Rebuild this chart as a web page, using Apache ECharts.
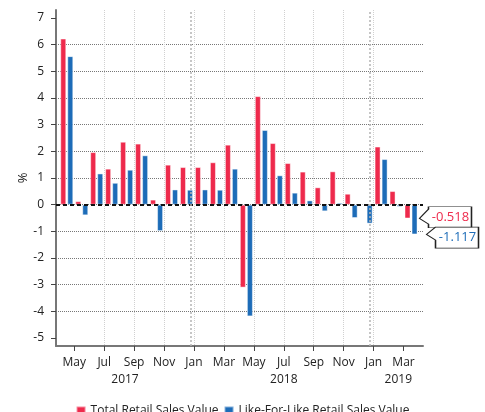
<!DOCTYPE html>
<html>
<head>
<meta charset="utf-8">
<script src="https://cdn.jsdelivr.net/npm/echarts@6/dist/echarts.min.js"></script>
<style>
  html, body { margin: 0; padding: 0; background: #fff; }
  #chart { width: 485px; height: 412px; }
</style>
</head>
<body>
<div id="chart"></div>
<script>
// monthly growth, %, Apr 2017 - Mar 2019
const months = [
  '2017-04', '2017-05', '2017-06', '2017-07', '2017-08', '2017-09',
  '2017-10', '2017-11', '2017-12', '2018-01', '2018-02', '2018-03',
  '2018-04', '2018-05', '2018-06', '2018-07', '2018-08', '2018-09',
  '2018-10', '2018-11', '2018-12', '2019-01', '2019-02', '2019-03'
]
const totalSales = [
  6.23, 0.13, 1.97, 1.35, 2.36, 2.29, 0.19, 1.50, 1.41, 1.41, 1.59, 2.25,
  -3.11, 4.07, 2.31, 1.56, 1.24, 0.65, 1.25, 0.41, 0.02, 2.18, 0.51, -0.518
]
const likeForLike = [
  5.57, -0.40, 1.17, 0.82, 1.31, 1.85, -0.99, 0.57, 0.56, 0.57, 0.56, 1.35,
  -4.19, 2.80, 1.10, 0.45, 0.16, -0.25, 0.07, -0.50, -0.71, 1.71, -0.08, -1.117
]
const seriesNames = ['Total Retail Sales Value', 'Like-For-Like Retail Sales Value']
const monthTicks = ['May', 'Jul', 'Sep', 'Nov', 'Jan', 'Mar', 'May', 'Jul', 'Sep', 'Nov', 'Jan', 'Mar']
const years = ['2017', '2018', '2019']
const yTicks = [-5, -4, -3, -2, -1, 0, 1, 2, 3, 4, 5, 6, 7]

const RED = '#ee2a4c'
const BLUE = '#1d6cb8'

// x is a month count: start of May 2017 = 0, so the 2-month ticks land on 0, 2, 4 ...
const xMin = -1.22
const xMax = 23.3
const barX = i => i - 0.5
const yearStarts = months.map((m, i) => m.endsWith('-01') ? i - 1 : null).filter(v => v !== null)
const yearEdges = [xMin, ...yearStarts, xMax]
const yearCenters = years.map((y, i) => (yearEdges[i] + yearEdges[i + 1]) / 2)
const tickValues = monthTicks.map((m, i) => i * 2)

// box with a pointer on its left side, tip sits on the last value
function callout (values, color, path, dy) {
  const last = values[values.length - 1]
  return {
    silent: true,
    symbol: path,
    symbolSize: [52, 21],
    symbolOffset: [26, dy],
    itemStyle: { color: '#fff', borderColor: '#222', borderWidth: 1 },
    label: {
      show: true,
      position: 'inside',
      offset: [5, 0],
      color: color,
      fontSize: 13,
      formatter: () => last.toFixed(3)
    },
    data: [{ coord: [xMax, last] }]
  }
}

const chart = echarts.init(document.getElementById('chart'))
chart.setOption({
  animation: false,
  textStyle: { fontFamily: 'Open Sans' },
  grid: { left: 56, right: 62, top: 10, bottom: 66 },
  legend: {
    data: seriesNames,
    top: 400,
    left: 'center',
    icon: 'rect',
    itemWidth: 9,
    itemHeight: 9,
    itemGap: 5,
    textStyle: { fontSize: 12, color: '#222' }
  },
  xAxis: [
    {
      type: 'value',
      min: xMin,
      max: xMax,
      minInterval: 2,
      maxInterval: 2,
      axisLine: { show: true, onZero: false, lineStyle: { color: '#777', width: 2 } },
      axisTick: { show: true, length: 5, customValues: tickValues, lineStyle: { color: '#444' } },
      axisLabel: {
        customValues: tickValues,
        margin: 11,
        fontSize: 12,
        color: '#222',
        formatter: v => monthTicks[Math.round(v / 2)] || ''
      },
      splitLine: {
        show: true,
        showMinLine: false,
        showMaxLine: false,
        lineStyle: { color: '#d0d0d0', type: 'dotted' }
      }
    },
    {
      // year row under the month labels
      type: 'value',
      min: xMin,
      max: xMax,
      position: 'bottom',
      offset: 17,
      axisLine: { show: false },
      axisTick: { show: false },
      splitLine: { show: false },
      axisLabel: {
        customValues: yearCenters,
        margin: 11,
        fontSize: 12,
        color: '#222',
        formatter: v => years[yearCenters.indexOf(v)] || ''
      }
    }
  ],
  yAxis: {
    type: 'value',
    min: -5.3,
    max: 7.3,
    minInterval: 1,
    maxInterval: 1,
    name: '%',
    nameLocation: 'middle',
    nameGap: 26,
    nameMoveOverlap: false,
    nameTextStyle: { fontSize: 13, color: '#222' },
    axisLine: { show: true, onZero: false, lineStyle: { color: '#777', width: 2 } },
    axisTick: { show: true, length: 5, customValues: yTicks, lineStyle: { color: '#444' } },
    axisLabel: { customValues: yTicks, margin: 12, fontSize: 12, color: '#222' },
    splitLine: {
      show: true,
      showMinLine: false,
      showMaxLine: false,
      lineStyle: { color: '#777', type: 'dotted' }
    }
  },
  series: [
    {
      name: seriesNames[0],
      type: 'bar',
      barWidth: 6,
      barGap: '17%',
      itemStyle: { color: RED, borderColor: 'rgba(255,255,255,0.45)', borderWidth: 1 },
      data: totalSales.map((v, i) => [barX(i), v]),
      markLine: {
        silent: true,
        symbol: ['none', 'none'],
        label: { show: false },
        data: [
          { yAxis: 0, lineStyle: { color: '#111', width: 2, type: [4, 3] } },
          ...yearStarts.map(x => ({ xAxis: x, lineStyle: { color: '#b4b4b4', width: 1.5, type: [2, 2] } }))
        ]
      },
      markPoint: callout(totalSales, RED, 'path://M9,0L52,0L52,21L9,21L9,17.3L0,11.7L9,2.3Z', -1.2)
    },
    {
      name: seriesNames[1],
      type: 'bar',
      barWidth: 6,
      barGap: '17%',
      itemStyle: { color: BLUE, borderColor: 'rgba(255,255,255,0.45)', borderWidth: 1 },
      data: likeForLike.map((v, i) => [barX(i), v]),
      markPoint: callout(likeForLike, BLUE, 'path://M9,0L52,0L52,21L9,21L9,13L0,7.3Z', 3.2)
    }
  ]
})
</script>
</body>
</html>
